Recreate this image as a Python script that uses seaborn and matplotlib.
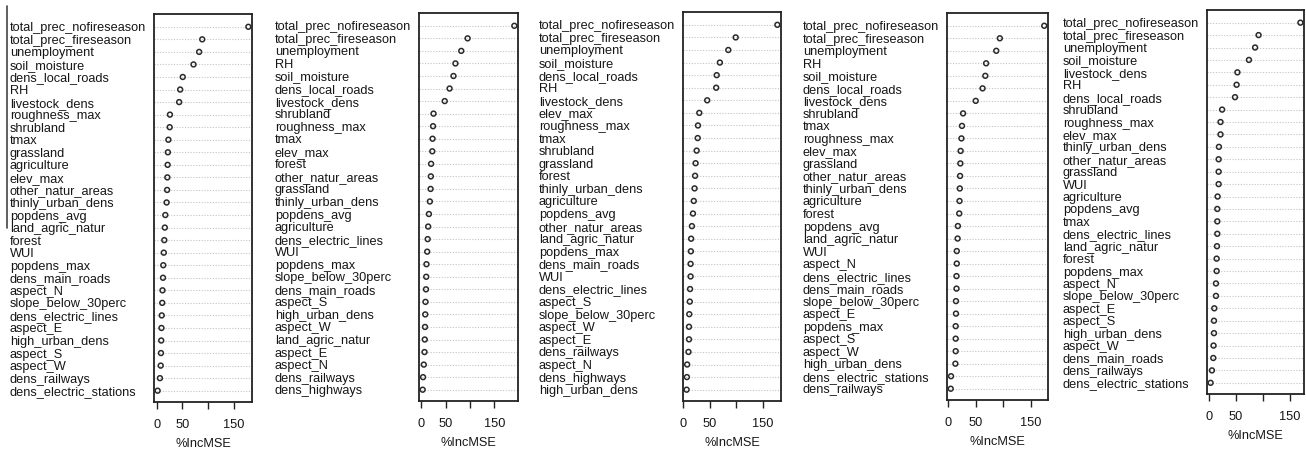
import matplotlib
matplotlib.use("Agg")
import matplotlib.pyplot as plt
import seaborn as sns
import pandas as pd
from matplotlib.lines import Line2D

sns.set_style("white")
plt.rcParams['font.family'] = ['Liberation Sans', 'DejaVu Sans']

# ---------------- data ----------------
p1_names = ["total_prec_nofireseason", "total_prec_fireseason", "unemployment", "soil_moisture",
            "dens_local_roads", "RH", "livestock_dens", "roughness_max", "shrubland", "tmax",
            "grassland", "agriculture", "elev_max", "other_natur_areas", "thinly_urban_dens",
            "popdens_avg", "land_agric_natur", "forest", "WUI", "popdens_max", "dens_main_roads",
            "aspect_N", "slope_below_30perc", "dens_electric_lines", "aspect_E", "high_urban_dens",
            "aspect_S", "aspect_W", "dens_railways", "dens_electric_stations"]
p1_vals = [179, 89, 83, 72, 51, 46, 44, 26, 25.5, 23, 22, 21.5, 21, 20.5, 19.5, 17, 16, 15, 14,
           13, 12.5, 11.5, 11, 10, 9.5, 9, 8.5, 8, 6.5, 2]

p2_names = ["total_prec_nofireseason", "total_prec_fireseason", "unemployment", "RH", "soil_moisture",
            "dens_local_roads", "livestock_dens", "shrubland", "roughness_max", "tmax", "elev_max",
            "forest", "other_natur_areas", "grassland", "thinly_urban_dens", "popdens_avg",
            "agriculture", "dens_electric_lines", "WUI", "popdens_max", "slope_below_30perc",
            "dens_main_roads", "aspect_S", "high_urban_dens", "aspect_W", "land_agric_natur",
            "aspect_E", "aspect_N", "dens_railways", "dens_highways"]
p2_vals = [191, 95, 82, 70, 66, 58, 48, 25, 24, 23, 22.5, 20, 19.5, 19, 17.5, 15.5, 14, 13, 12,
           10.5, 10, 9.5, 8.5, 8, 7.5, 7, 6.5, 5, 3.5, 2.7]

p3_names = ["total_prec_nofireseason", "total_prec_fireseason", "unemployment", "soil_moisture",
            "dens_local_roads", "RH", "livestock_dens", "elev_max", "roughness_max", "tmax",
            "shrubland", "grassland", "forest", "thinly_urban_dens", "agriculture", "popdens_avg",
            "other_natur_areas", "land_agric_natur", "popdens_max", "dens_main_roads", "WUI",
            "dens_electric_lines", "aspect_S", "slope_below_30perc", "aspect_W", "aspect_E",
            "dens_railways", "aspect_N", "dens_highways", "high_urban_dens"]
p3_vals = [178, 99, 85, 69, 63, 62, 45, 30, 27.5, 27, 25, 23, 22, 21, 19.5, 18, 16, 14.5, 14,
           13.5, 13.5, 12.5, 12, 11, 10.5, 10.5, 9.5, 7, 6.5, 6]

p4_names = ["total_prec_nofireseason", "total_prec_fireseason", "unemployment", "RH", "soil_moisture",
            "dens_local_roads", "livestock_dens", "shrubland", "tmax", "roughness_max", "elev_max",
            "grassland", "other_natur_areas", "thinly_urban_dens", "agriculture", "forest",
            "popdens_avg", "land_agric_natur", "WUI", "aspect_N", "dens_electric_lines",
            "dens_main_roads", "slope_below_30perc", "aspect_E", "popdens_max", "aspect_S",
            "aspect_W", "high_urban_dens", "dens_electric_stations", "dens_railways"]
p4_vals = [175, 94, 87.5, 69, 67.5, 62.5, 50, 27, 25, 24, 22.5, 22, 21.5, 21, 20.5, 20, 17.5, 17,
           15.5, 15.5, 15, 15, 14, 14, 13.5, 13.5, 13.5, 13, 5, 4.5]

p5_names = ["total_prec_nofireseason", "total_prec_fireseason", "unemployment", "soil_moisture",
            "livestock_dens", "RH", "dens_local_roads", "shrubland", "roughness_max", "elev_max",
            "thinly_urban_dens", "other_natur_areas", "grassland", "WUI", "agriculture",
            "popdens_avg", "tmax", "dens_electric_lines", "land_agric_natur", "forest",
            "popdens_max", "aspect_N", "slope_below_30perc", "aspect_E", "aspect_S",
            "high_urban_dens", "aspect_W", "dens_main_roads", "dens_railways", "dens_electric_stations"]
p5_vals = [170, 92, 85.5, 74, 52.5, 51, 48, 24, 21, 21, 18, 17.5, 17.5, 17.5, 15.6, 15, 15, 15,
           14.4, 13.8, 13.8, 12.5, 12.5, 9.4, 8.8, 8.8, 8, 7.5, 5, 2.5]

x_ticks = [0, 50, 100, 150]
x_ticklabels = ["0", "50", "", "150"]
x_label = "%IncMSE"

# ---------------- layout ----------------
W, H = 1306, 450
panels = [(p1_names, p1_vals), (p2_names, p2_vals), (p3_names, p3_vals),
          (p4_names, p4_vals), (p5_names, p5_vals)]
boxes_px = [(154, 252, 14, 402), (419, 518, 13, 401), (683, 781, 12, 401),
            (947, 1048, 13, 400), (1207, 1304, 10, 394)]

txt = "#161616"
fig = plt.figure(figsize=(W / 100, H / 100), dpi=100)

for (names, vals), (l, r, t, b) in zip(panels, boxes_px):
    ax = fig.add_axes([l / W, 1 - b / H, (r - l) / W, (b - t) / H])
    df = pd.DataFrame({"variable": names, "IncMSE": vals})
    sns.stripplot(data=df, x="IncMSE", y="variable", order=names, orient="h",
                  jitter=False, ax=ax, size=3.5, color="#2a2a2a",
                  linewidth=1.1, edgecolor="#2a2a2a", zorder=3)
    for c in ax.collections:
        c.set_facecolor("none")
        c.set_edgecolor("#2a2a2a")
    ax.xaxis.grid(False)
    ax.yaxis.grid(True, linestyle=(0, (1, 1.5)), color="#c4c4c4", linewidth=0.8)
    ax.set_axisbelow(True)
    rng = max(vals) - min(vals)
    ax.set_xlim(min(vals) - 0.04 * rng, max(vals) + 0.04 * rng)
    ax.set_ylim(len(names) - 1 + 0.9, -1.02)
    ax.set_xticks(x_ticks)
    ax.set_xticklabels(x_ticklabels, fontsize=9.2, color=txt)
    ax.tick_params(axis="x", bottom=True, direction="out", length=5, width=1.0,
                   color="#222222", pad=7)
    ax.tick_params(axis="y", left=False, length=0, pad=103.7, labelsize=9.2, labelcolor=txt)
    for lab in ax.get_yticklabels():
        lab.set_horizontalalignment("left")
    ax.set_ylabel("")
    ax.set_xlabel(x_label, fontsize=9.2, color=txt, labelpad=5)
    for s in ax.spines.values():
        s.set_visible(True)
        s.set_color("#222222")
        s.set_linewidth(1.3)

fig.add_artist(Line2D([7 / W, 7 / W], [1 - 6 / H, 1 - 228 / H], color="#444444", lw=1.2))

fig.savefig("out.png", dpi=100, facecolor="white")
